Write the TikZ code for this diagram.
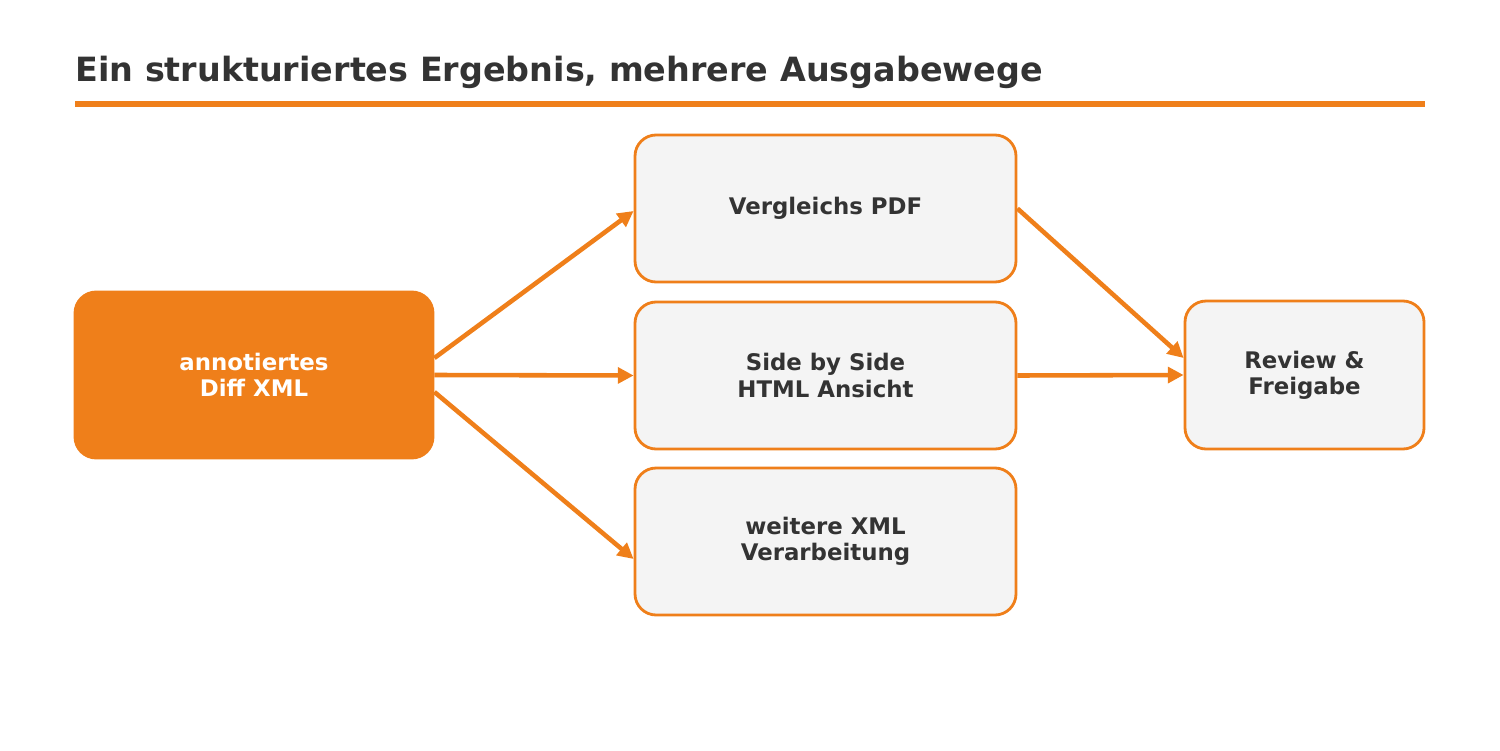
\documentclass[tikz,border=0pt]{standalone}
\usepackage{fontspec}
\setmainfont{DejaVu Sans}
\usetikzlibrary{arrows.meta, positioning}
\definecolor{diffOrange}{HTML}{EF7F1A}
\definecolor{diffDark}{HTML}{333333}
\definecolor{diffLight}{HTML}{F4F4F4}

\begin{document}
\begin{tikzpicture}[
    box/.style={
        rectangle,
        draw=diffOrange,
        line width=1.6pt,
        fill=diffLight,
        text=diffDark,
        align=center,
        font=\fontsize{13}{15}\selectfont\bfseries,
        minimum width=7.62cm,
        minimum height=2.94cm,
        rounded corners=12pt
    },
    arrow/.style={-{Triangle[length=9pt,width=9pt]}, line width=2.6pt, diffOrange}
]
    \useasboundingbox (0,0) rectangle (30,15);

    % Title
    \node[anchor=base west, text=diffDark, font=\fontsize{19}{22}\selectfont\bfseries, inner sep=0pt]
        (title) at (1.5,13.36) {Ein strukturiertes Ergebnis, mehrere Ausgabewege};
    \draw[diffOrange, line width=3pt] (1.5,12.92) -- (28.5,12.92);

    % Boxes
    \node[box, fill=diffOrange, text=white, minimum width=7.16cm, minimum height=3.32cm]
        (xml) at (5.08,7.5) {annotiertes\\Diff XML};
    \node[box] (pdf) at (16.51,10.83) {Vergleichs PDF};
    \node[box] (html) at (16.51,7.49) {Side by Side\\HTML Ansicht};
    \node[box] (more) at (16.51,4.17) {weitere XML\\Verarbeitung};
    \node[box, minimum width=4.78cm, minimum height=2.96cm] (review) at (26.09,7.5) {Review \&\\Freigabe};

    % Arrows
    \draw[arrow] ([yshift=0.34cm]xml.east) -- ([yshift=-0.05cm]pdf.west);
    \draw[arrow] (xml.east) -- (html.west);
    \draw[arrow] ([yshift=-0.34cm]xml.east) -- ([yshift=-0.35cm]more.west);
    \draw[arrow] (pdf.east) -- ([yshift=0.34cm]review.west);
    \draw[arrow] (html.east) -- (review.west);

\end{tikzpicture}
\end{document}
